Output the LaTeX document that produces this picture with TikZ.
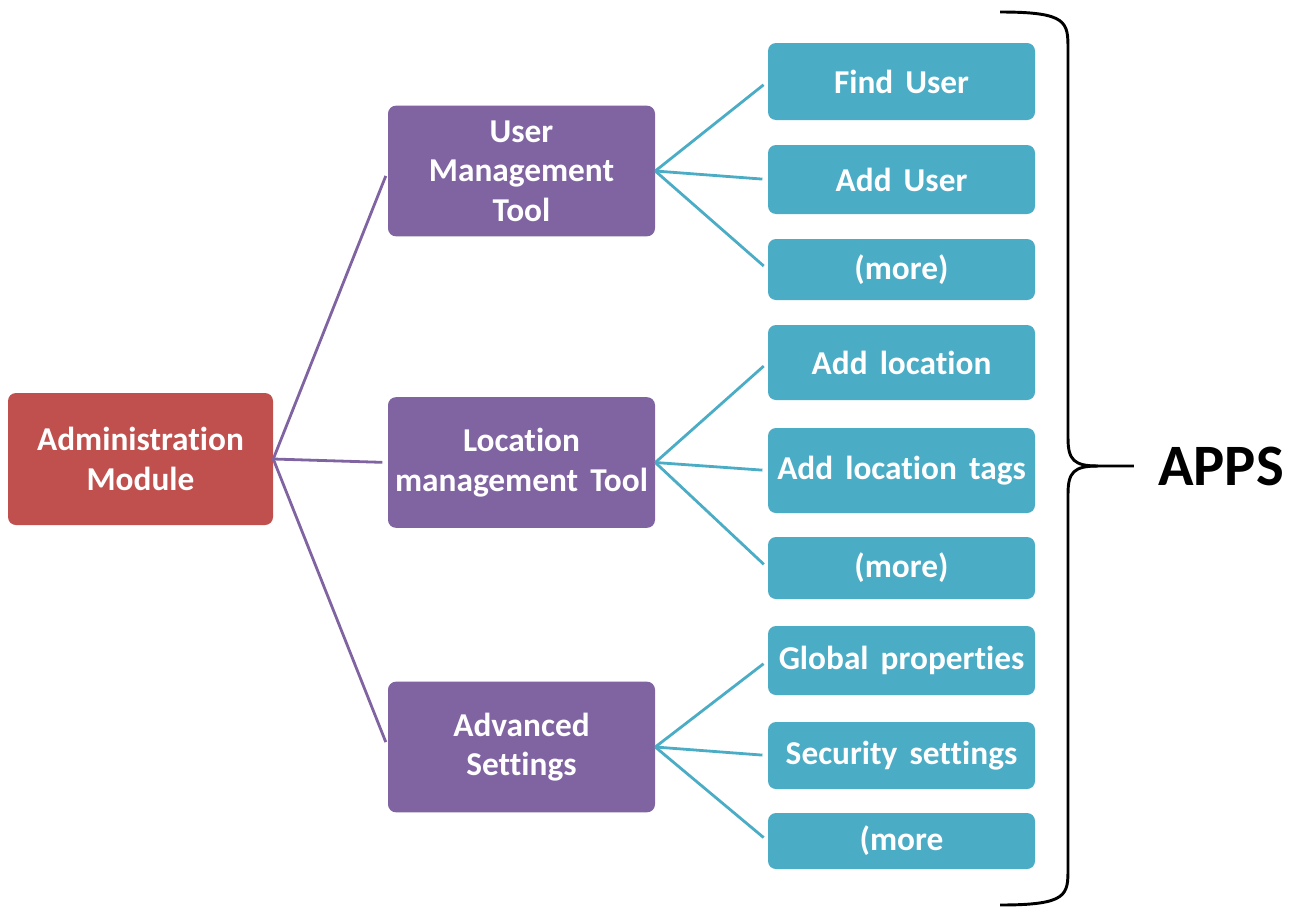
\documentclass[tikz,border=0pt]{standalone}
\usepackage{fontspec}
\setmainfont{Carlito}[WordSpace=1.6, RawFeature={-liga;-clig;-dlig}]
\usetikzlibrary{positioning}

\definecolor{adminred}{HTML}{C0504D}
\definecolor{toolpurple}{HTML}{8064A2}
\definecolor{appblue}{HTML}{4BACC6}

\tikzset{
  box/.style={rounded corners=6pt, text=white, align=center, inner sep=2pt,
              font=\fontsize{25}{29.6}\selectfont\bfseries},
  adminbox/.style={box, fill=adminred, minimum width=198.75pt, minimum height=99pt},
  toolbox/.style={box, fill=toolpurple, minimum width=200.25pt, minimum height=98pt},
  appbox/.style={box, fill=appblue, minimum width=200.25pt},
  toolline/.style={toolpurple, line width=2.1pt, shorten >=4pt},
  appline/.style={appblue, line width=2.1pt, shorten >=4pt},
}

\begin{document}
\begin{tikzpicture}[x=0.75pt,y=-0.75pt]
\useasboundingbox (0,0) rectangle (1294,910);

% main module and tools
\node[adminbox] (admin) at (140.5,459) {Administration\\Module};
\node[toolbox] (user) at (521.5,171) {User\\Management\\Tool};
\node[toolbox] (loc) at (521.5,462.5) {Location\\management Tool};
\node[toolbox] (adv) at (521.5,747) {Advanced\\Settings};

% apps
\node[appbox, minimum height=57.75pt] (finduser) at (901.5,81.5) {Find User};
\node[appbox, minimum height=51.75pt] (adduser) at (901.5,179.5) {Add User};
\node[appbox, minimum height=45.75pt] (moreuser) at (901.5,269.5) {(more)};
\node[appbox, minimum height=56.25pt] (addloc) at (901.5,362.5) {Add location};
\node[appbox, minimum height=63.75pt] (loctags) at (901.5,470.5) {Add location tags};
\node[appbox, minimum height=46.5pt] (moreloc) at (901.5,568) {(more)};
\node[appbox, minimum height=51.75pt] (global) at (901.5,660.5) {Global properties};
\node[appbox, minimum height=50.25pt] (security) at (901.5,755.5) {Security settings};
\node[appbox, minimum height=42pt] (moreadv) at (901.5,841) {(more};

\draw[toolline] (admin.east) -- (user.west);
\draw[toolline] (admin.east) -- (loc.west);
\draw[toolline] (admin.east) -- (adv.west);

\draw[appline] (user.east) -- (finduser.west);
\draw[appline] (user.east) -- (adduser.west);
\draw[appline] (user.east) -- (moreuser.west);
\draw[appline] (loc.east) -- (addloc.west);
\draw[appline] (loc.east) -- (loctags.west);
\draw[appline] (loc.east) -- (moreloc.west);
\draw[appline] (adv.east) -- (global.west);
\draw[appline] (adv.east) -- (security.west);
\draw[appline] (adv.east) -- (moreadv.west);

% brace
\node[font=\fontsize{44}{50}\selectfont\bfseries, inner sep=0pt] (apps) at (1221,466) {APPS};
\coordinate (bracetop) at (1000,12);
\coordinate (bracebot) at (1000,905);
\draw[line width=2.2pt] (bracetop) .. controls (1068,12) and (1068,22) .. (1068,50)
  -- (1068,438) .. controls (1068,460) and (1074,466) .. (1098,466)
  -- ([xshift=-18pt]apps.west);
\draw[line width=2.2pt] (bracebot) .. controls (1068,905) and (1068,895) .. (1068,868)
  -- (1068,494) .. controls (1068,472) and (1074,466) .. (1098,466);
\end{tikzpicture}
\end{document}
